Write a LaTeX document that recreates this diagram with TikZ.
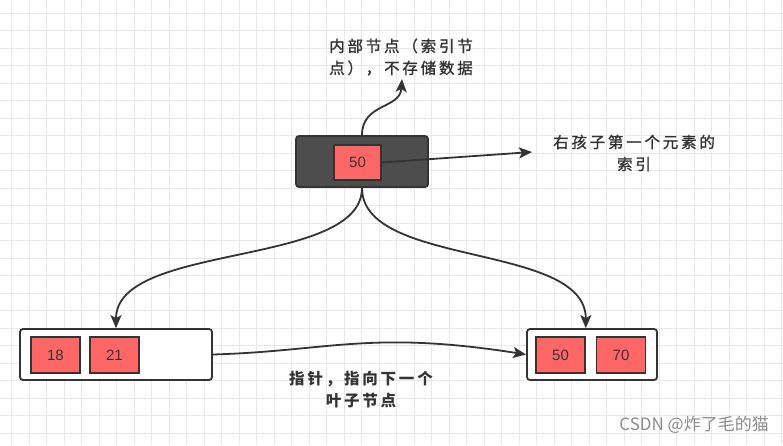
\documentclass[tikz,border=0pt]{standalone}
\usepackage{fontspec}
\setmainfont{Liberation Sans}
\newfontfamily\cjk[LetterSpace=18,FakeBold=1.2]{Noto Sans CJK SC}
\newfontfamily\cjkb[LetterSpace=18]{Noto Sans CJK SC}
\newfontfamily\cjkwm{Noto Sans CJK SC}
\usetikzlibrary{arrows.meta}
\definecolor{ink}{HTML}{333333}
\definecolor{darkbox}{HTML}{4D4D4D}
\definecolor{redbox}{HTML}{FF6666}
\definecolor{gridc}{HTML}{E8E8E8}
\definecolor{wm}{HTML}{8C8C8C}
\tikzset{
  outerbox/.style={draw=ink, line width=1.8pt, rounded corners=3pt, minimum height=51pt, inner sep=0pt},
  keybox/.style={draw=ink, fill=redbox, line width=1.6pt, minimum width=47pt, minimum height=35pt, inner sep=0pt, font=\fontsize{15}{17}\selectfont, text=ink},
  conn/.style={draw=ink, line width=1.8pt, -{Stealth[length=13pt,width=11pt,inset=3pt]}},
  lbl/.style={font=\cjk\fontsize{15.5}{22}\selectfont, text=ink, align=center, inner sep=0pt},
}
\begin{document}
\begin{tikzpicture}[x=1pt,y=-1pt]
\useasboundingbox (0,0) rectangle (783,445);
\fill[white] (0,0) rectangle (783,445);
% grid
\foreach \i in {0,...,44} {\draw[gridc, line width=0.8pt] ({11.7+17.5*\i},0) -- ({11.7+17.5*\i},445);}
\foreach \j in {0,...,25} {\draw[gridc, line width=0.8pt] (0,{13.3+17.5*\j}) -- (783,{13.3+17.5*\j});}

% top internal node
\node[outerbox, fill=darkbox, minimum width=132pt] (top) at (362,161.5) {};
\node[keybox] (k50a) at (357.5,162.5) {50};

% leaves
\node[outerbox, fill=white, minimum width=192pt] (left) at (116,354.5) {};
\node[keybox, minimum width=49pt, minimum height=36pt] (k18) at (55.5,355) {18};
\node[keybox, minimum width=49pt, minimum height=36pt] (k21) at (114.5,355) {21};
\node[outerbox, fill=white, minimum width=130pt] (right) at (592,354.5) {};
\node[keybox, minimum width=49pt, minimum height=36pt] (k50b) at (560.5,355) {50};
\node[keybox, minimum width=49pt, minimum height=36pt] (k70) at (621,355) {70};

% labels
\node[lbl] (lbl1) at (401,57) {内部节点（索引节\\点），不存储数据};
\node[lbl] (lbl2) at (634,153) {右孩子第一个元素的\\索引};
\node[lbl, font=\cjkb\bfseries\fontsize{15.5}{22}\selectfont] (lbl3) at (361,390) {指针，指向下一个\\叶子节点};
\coordinate (c1) at (402,79);
\coordinate (c2) at (532,152);

% connectors
\draw[conn] (top.north) .. controls ++(0,-32) and ++(-2,30) .. (c1);
\draw[conn] (k50a.east) -- (c2);
\draw[conn] (top.south) .. controls ++(0,80) and ++(0,-86) .. (left.north);
\draw[conn] (top.south) .. controls ++(0,80) and ++(0,-86) .. (right.north -| k50b.east);
\draw[conn] (left.east) .. controls (330,351) and (370,330) .. (right.west);

% watermark
\node[font=\cjkwm\fontsize{17}{20}\selectfont, text=wm, anchor=east, inner sep=0pt] (wmk) at (769,425) {CSDN @炸了毛的猫};
\end{tikzpicture}
\end{document}
